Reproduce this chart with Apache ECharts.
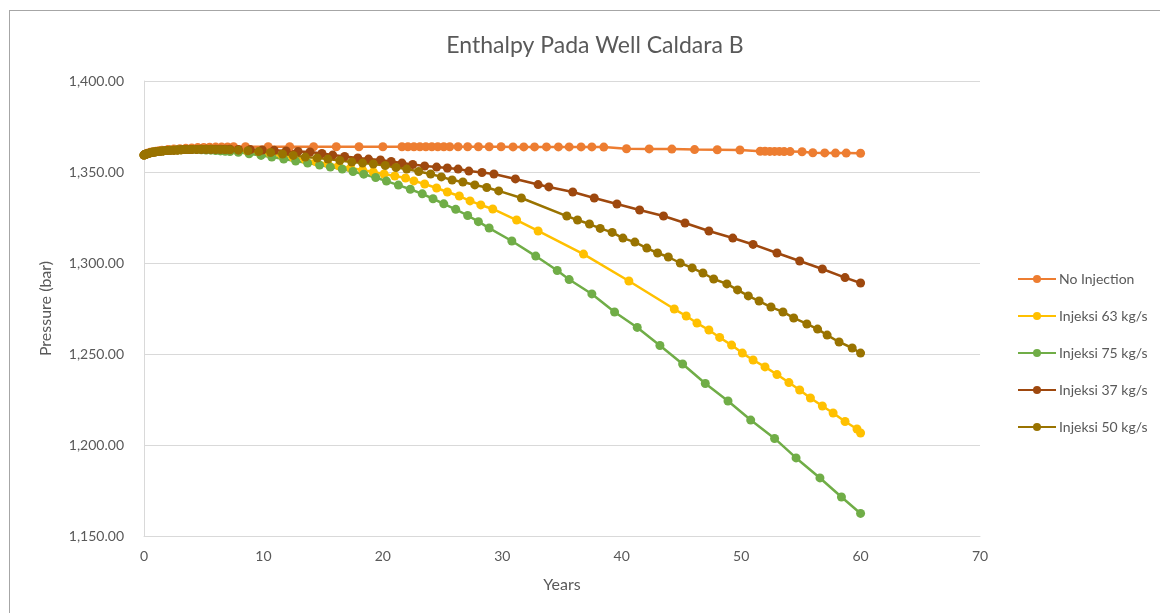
<!DOCTYPE html>
<html>
<head>
<meta charset="utf-8">
<script src="https://cdn.jsdelivr.net/npm/echarts@6/dist/echarts.min.js"></script>
<style>
html,body{margin:0;padding:0;background:#fff;overflow:hidden;}
#frame{position:absolute;left:9px;top:10px;width:1200px;height:700px;border:1px solid #a6a6a6;box-sizing:border-box;}
#chart{position:absolute;left:0;top:0;width:1160px;height:613px;}
</style>
</head>
<body>
<div id="frame"></div>
<div id="chart"></div>
<script>
const chartTitle = 'Enthalpy Pada Well Caldara B';
const xAxisName = 'Years';
const yAxisName = 'Pressure (bar)';
const seriesNames = ['No Injection', 'Injeksi 63 kg/s', 'Injeksi 75 kg/s', 'Injeksi 37 kg/s', 'Injeksi 50 kg/s'];
const seriesColors = ['#ED7D31', '#FFC000', '#70AD47', '#9E480E', '#997300'];

const noInjYears = [0,0.1,0.25,0.5,0.75,1,1.25,1.5,2,2.5,3,3.5,4,4.5,5,5.5,6,6.5,7,7.5,8.5,10.4,12.2,14.2,16.1,18.0,20.0,21.6,22.1,22.6,23.1,23.6,24.1,24.6,25.1,25.6,26.3,27.1,28.0,28.9,29.9,30.9,31.8,32.7,33.7,34.7,35.6,36.6,37.5,38.5,40.4,42.3,44.2,46.1,48.0,49.9,51.6,52.0,52.4,52.8,53.2,53.6,54.1,55.1,56.0,57.0,57.9,58.8,60];
const noInjValues = [1359.3,1359.8,1360.3,1360.8,1361.1,1361.4,1361.7,1361.9,1362.3,1362.6,1362.8,1363.0,1363.2,1363.4,1363.5,1363.6,1363.7,1363.8,1363.8,1363.9,1363.9,1363.9,1363.9,1363.9,1363.9,1363.9,1363.9,1363.9,1363.9,1363.9,1363.9,1363.9,1363.9,1363.9,1363.9,1363.9,1363.9,1363.9,1363.9,1363.9,1363.9,1363.8,1363.8,1363.8,1363.8,1363.8,1363.8,1363.8,1363.8,1363.7,1362.8,1362.7,1362.6,1362.3,1362.2,1362.1,1361.4,1361.4,1361.3,1361.3,1361.3,1361.2,1361.2,1361.1,1360.6,1360.5,1360.4,1360.4,1360.3];

const inj63Years = [0,0.1,0.2,0.35,0.5,0.7,0.9,1.1,1.35,1.6,1.9,2.2,2.5,2.8,3.1,3.4,3.7,4.0,4.4,4.8,5.2,5.6,6.0,6.4,6.8,7.2,7.8,8.7,9.7,10.6,11.6,12.5,13.5,14.4,15.4,16.3,17.3,18.3,19.2,20.1,21.0,21.9,22.6,23.5,24.5,25.4,26.4,27.3,28.2,29.2,31.2,33.0,36.8,40.6,44.4,45.4,46.3,47.3,48.2,49.2,50.1,51.0,52.0,53.0,54.0,54.9,55.8,56.8,57.7,58.7,59.7,60];
const inj63Values = [1359.3,1359.6,1359.9,1360.2,1360.5,1360.8,1361.0,1361.2,1361.4,1361.6,1361.8,1361.9,1362.0,1362.1,1362.2,1362.3,1362.3,1362.4,1362.4,1362.4,1362.3,1362.3,1362.2,1362.1,1362.0,1361.9,1361.6,1361.1,1360.4,1359.6,1358.7,1357.8,1356.7,1355.6,1354.5,1353.4,1352.2,1351.1,1350.0,1348.9,1347.8,1346.7,1345.1,1343.4,1341.2,1339.0,1336.8,1334.1,1331.9,1329.7,1323.6,1317.6,1304.9,1290.1,1274.7,1270.9,1267.0,1263.2,1259.1,1254.9,1250.5,1246.7,1242.9,1238.7,1234.3,1230.2,1225.8,1221.4,1217.6,1212.9,1208.8,1206.6];

const inj75Years = [0,0.1,0.2,0.35,0.5,0.7,0.9,1.1,1.35,1.6,1.9,2.2,2.5,2.8,3.1,3.4,3.7,4.0,4.4,4.8,5.2,5.6,6.0,6.4,6.8,7.2,7.9,8.8,9.8,10.7,11.7,12.7,13.7,14.7,15.6,16.6,17.5,18.4,19.4,20.3,21.3,22.3,23.3,24.2,25.1,26.1,27.1,28.0,28.9,30.8,32.8,34.6,35.6,37.5,39.4,41.3,43.2,45.1,47.0,48.9,50.8,52.8,54.6,56.6,58.4,60];
const inj75Values = [1359.3,1359.6,1359.9,1360.2,1360.5,1360.8,1361.0,1361.2,1361.4,1361.6,1361.8,1361.9,1362.0,1362.1,1362.2,1362.3,1362.3,1362.3,1362.3,1362.2,1362.1,1362.0,1361.8,1361.6,1361.4,1361.2,1360.8,1360.0,1359.1,1358.2,1357.1,1356.0,1354.9,1353.8,1352.7,1351.6,1350.3,1348.8,1347.0,1345.0,1342.8,1340.5,1338.0,1335.3,1332.5,1329.5,1326.1,1322.7,1319.2,1312.1,1303.8,1295.9,1290.9,1283.0,1273.1,1264.6,1254.7,1244.5,1233.8,1224.2,1213.7,1203.6,1192.9,1181.9,1171.4,1162.4];

const inj37Years = [0,0.1,0.2,0.35,0.5,0.7,0.9,1.1,1.35,1.6,1.9,2.2,2.5,2.8,3.1,3.4,3.7,4.0,4.4,4.8,5.2,5.6,6.0,6.4,6.8,7.2,7.9,8.9,9.9,10.9,11.9,12.9,13.9,14.9,15.8,16.8,17.9,18.8,19.8,20.7,21.6,22.5,23.5,24.5,25.4,26.3,27.2,28.3,29.3,31.1,33.0,33.9,35.9,37.7,39.6,41.5,43.5,45.3,47.3,49.3,51.0,53.0,54.9,56.8,58.7,60];
const inj37Values = [1359.3,1359.6,1359.9,1360.2,1360.5,1360.8,1361.0,1361.2,1361.4,1361.6,1361.8,1361.9,1362.0,1362.1,1362.2,1362.3,1362.3,1362.4,1362.4,1362.5,1362.5,1362.5,1362.5,1362.5,1362.5,1362.5,1362.4,1362.3,1362.1,1361.9,1361.6,1361.3,1361.0,1360.2,1359.3,1358.5,1357.7,1357.1,1356.6,1355.8,1354.9,1354.1,1353.3,1352.7,1352.2,1351.6,1350.5,1349.7,1348.9,1346.2,1343.1,1341.8,1339.0,1335.7,1332.4,1329.1,1325.8,1322.0,1317.6,1313.7,1310.2,1305.5,1301.1,1296.7,1292.0,1289.0];

const inj50Years = [0,0.1,0.2,0.35,0.5,0.7,0.9,1.1,1.35,1.6,1.9,2.2,2.5,2.8,3.1,3.4,3.7,4.0,4.4,4.8,5.2,5.6,6.0,6.4,6.8,7.2,7.9,8.7,9.6,10.6,11.6,12.5,13.5,14.5,15.4,16.4,17.4,18.3,19.2,20.2,21.1,22.0,23.0,24.0,24.9,25.8,26.7,27.7,28.7,29.7,31.6,35.4,36.3,37.3,38.2,39.2,40.1,41.1,42.1,43.0,43.9,44.9,45.9,46.8,47.7,48.8,49.7,50.6,51.5,52.5,53.5,54.4,55.5,56.4,57.2,58.2,59.3,60];
const inj50Values = [1359.3,1359.6,1359.9,1360.2,1360.5,1360.8,1361.0,1361.2,1361.4,1361.6,1361.8,1361.9,1362.0,1362.1,1362.2,1362.3,1362.3,1362.4,1362.4,1362.5,1362.5,1362.5,1362.4,1362.4,1362.3,1362.2,1362.0,1361.7,1361.2,1360.7,1359.9,1359.1,1358.2,1357.7,1357.1,1356.3,1355.5,1354.9,1354.4,1353.6,1352.5,1351.6,1350.3,1348.9,1347.3,1345.6,1344.5,1342.9,1341.5,1339.6,1335.7,1325.8,1323.6,1321.4,1319.0,1316.8,1313.7,1311.5,1308.2,1305.5,1303.3,1300.0,1297.3,1294.5,1291.2,1288.5,1285.2,1281.9,1279.1,1275.8,1273.1,1269.8,1266.5,1263.7,1260.4,1256.6,1253.3,1250.5];

const xMin = 0, xMax = 70, xStep = 10;
const yMin = 1150, yMax = 1400, yStep = 50;

const allYears = [noInjYears, inj63Years, inj75Years, inj37Years, inj50Years];
const allValues = [noInjValues, inj63Values, inj75Values, inj37Values, inj50Values];

const FONT = 'Lato, "Open Sans", sans-serif';
const TXT = '#595959';

const chart = echarts.init(document.getElementById('chart'), null, {renderer: 'canvas'});
chart.setOption({
  animation: false,
  backgroundColor: 'transparent',
  title: {
    text: chartTitle,
    left: 590, top: 29, textAlign: 'center',
    textStyle: {fontFamily: FONT, fontSize: 23, fontWeight: 'normal', color: TXT}
  },
  grid: {left: 144, right: 180, top: 81, bottom: 77, containLabel: false},
  legend: {
    orient: 'vertical', left: 1012, top: 267,
    itemWidth: 38, itemHeight: 10, itemGap: 23,
    textStyle: {fontFamily: FONT, fontSize: 14, color: TXT, padding: [0,0,0,-2]},
    data: seriesNames
  },
  xAxis: {
    type: 'value', min: xMin, max: xMax, interval: xStep,
    name: xAxisName, nameLocation: 'middle', nameGap: 41,
    nameTextStyle: {fontFamily: FONT, fontSize: 16, color: TXT},
    axisLine: {show: true, lineStyle: {color: '#d9d9d9', width: 1}},
    axisTick: {show: false},
    splitLine: {show: false},
    axisLabel: {fontFamily: FONT, fontSize: 14, color: TXT, margin: 13}
  },
  yAxis: {
    type: 'value', min: yMin, max: yMax, interval: yStep,
    name: yAxisName, nameLocation: 'middle', nameGap: 90, nameRotate: 90,
    nameTextStyle: {fontFamily: FONT, fontSize: 16, color: TXT},
    axisLine: {show: true, lineStyle: {color: '#d9d9d9', width: 1}},
    axisTick: {show: false},
    splitLine: {show: true, lineStyle: {color: '#d9d9d9', width: 1}},
    axisLabel: {
      fontFamily: FONT, fontSize: 14, color: TXT, margin: 20,
      formatter: v => v.toLocaleString('en-US', {minimumFractionDigits: 2, maximumFractionDigits: 2})
    }
  },
  series: seriesNames.map((name, i) => ({
    name: name,
    type: 'line',
    data: allYears[i].map((x, k) => [x, allValues[i][k]]),
    symbol: 'circle',
    symbolSize: 9,
    showSymbol: true,
    color: seriesColors[i],
    lineStyle: {width: 2.5, color: seriesColors[i]},
    itemStyle: {color: seriesColors[i], borderWidth: 0}
  }))
});
</script>
</body>
</html>
